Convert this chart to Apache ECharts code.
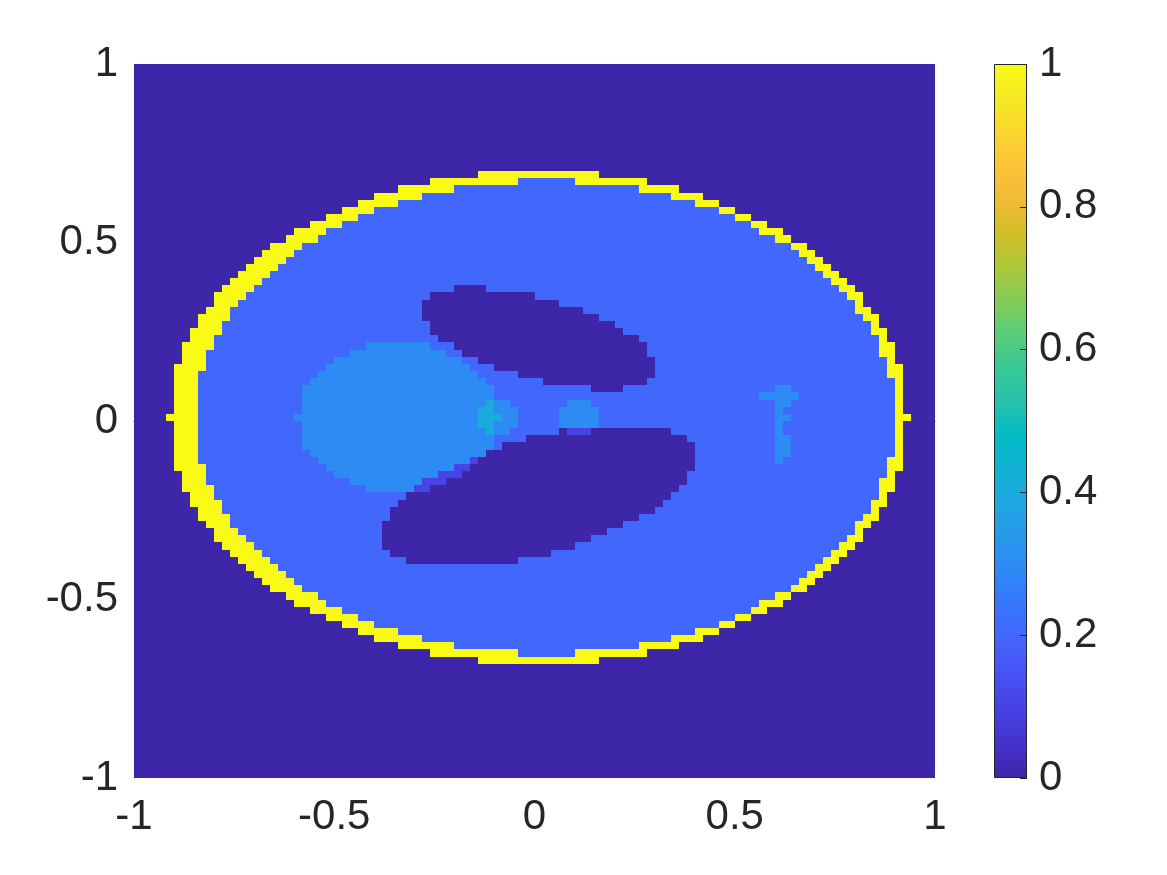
<!DOCTYPE html>
<html>
<head>
<meta charset="utf-8">
<script src="https://cdn.jsdelivr.net/npm/echarts@6/dist/echarts.min.js"></script>
<style>
  html, body { margin: 0; padding: 0; background: #ffffff; }
  #chart { width: 1167px; height: 875px; }
</style>
</head>
<body>
<div id="chart"></div>
<script>
// 图像网格：100 x 100，坐标从 -1 到 1
var gridSize = 100;
var axisMin = -1;
var axisMax = 1;
var cellSize = 0.02;

// 椭圆参数（从图上读出，图像坐标）
var ellipseCx = [0, 0.0184, 0, 0, -0.35, -0.1, 0.1, 0.605, 0.606, 0.605];
var ellipseCy = [0, 0, 0.22, -0.22, 0, 0, 0, -0.08, 0, 0.06];
var ellipseRx = [0.92, 0.874, 0.31, 0.41, 0.25, 0.046, 0.046, 0.023, 0.023, 0.046];
var ellipseRy = [0.69, 0.6624, 0.11, 0.16, 0.21, 0.046, 0.046, 0.046, 0.023, 0.023];
var ellipseAngle = [0, 0, -18, 18, 0, 0, 0, 0, 0, 0];
var ellipseIntensity = [1, -0.8, -0.2, -0.2, 0.1, 0.1, 0.1, 0.1, 0.1, 0.1];

// 坐标轴刻度
var axisTicks = [-1, -0.5, 0, 0.5, 1];
var colorbarTicks = [0, 0.2, 0.4, 0.6, 0.8, 1];
var colorbarRange = [0, 1];

// parula 色图
var parula = ['#3e26a8', '#4432cb', '#4741e5', '#4852f4', '#4563fd', '#3875fe',
  '#2e87f7', '#2797eb', '#20a5e3', '#12b1d6', '#02bac3', '#24c1ae', '#37c897',
  '#57cc7a', '#81cc59', '#abc739', '#d1bf27', '#f0ba36', '#fec338', '#fad62d',
  '#f5e924', '#f9fb15'];

// 计算每个格子的值（把各椭圆叠加）
function buildCells() {
  var cells = [];
  for (var i = 0; i < gridSize; i++) {
    var x = (i - gridSize / 2) / (gridSize / 2);
    for (var j = 0; j < gridSize; j++) {
      var y = (j - gridSize / 2) / (gridSize / 2);
      var v = 0;
      for (var k = 0; k < ellipseCx.length; k++) {
        var t = ellipseAngle[k] * Math.PI / 180;
        var dx = x - ellipseCx[k];
        var dy = y - ellipseCy[k];
        var u = dx * Math.cos(t) + dy * Math.sin(t);
        var w = -dx * Math.sin(t) + dy * Math.cos(t);
        var s = (u / ellipseRx[k]) * (u / ellipseRx[k]) + (w / ellipseRy[k]) * (w / ellipseRy[k]);
        if (s <= 1 + 1e-9) v += ellipseIntensity[k];
      }
      cells.push([x, y, Math.round(v * 1000) / 1000]);
    }
  }
  return cells;
}

var textColor = '#262626';
var fontFamily = 'Liberation Sans, Arial, sans-serif';
var fontSize = 42;

var chart = echarts.init(document.getElementById('chart'), null, { renderer: 'canvas' });

var gradientStops = parula.map(function (c, idx) {
  return { offset: idx / (parula.length - 1), color: c };
});

var option = {
  animation: false,
  backgroundColor: '#ffffff',
  grid: [
    { left: 134, top: 64, width: 801, height: 714 },
    { left: 994, top: 64, width: 33, height: 714 }
  ],
  xAxis: [
    {
      type: 'value', gridIndex: 0, min: axisMin, max: axisMax, interval: 0.5,
      axisLine: { show: true, lineStyle: { color: textColor, width: 1 } },
      axisTick: { show: false },
      splitLine: { show: false },
      axisLabel: {
        color: textColor, fontSize: fontSize, fontFamily: fontFamily, margin: 18,
        customValues: axisTicks
      }
    },
    {
      type: 'category', gridIndex: 1, data: ['c'], show: false
    }
  ],
  yAxis: [
    {
      type: 'value', gridIndex: 0, min: axisMin, max: axisMax, interval: 0.5,
      axisLine: { show: false },
      axisTick: { show: false },
      splitLine: { show: false },
      axisLabel: {
        color: textColor, fontSize: fontSize, fontFamily: fontFamily, margin: 16,
        customValues: axisTicks
      }
    },
    {
      type: 'value', gridIndex: 1, position: 'right', z: 5,
      min: colorbarRange[0], max: colorbarRange[1], interval: 0.2,
      axisLine: { show: false },
      axisTick: { show: true, inside: true, length: 7, lineStyle: { color: textColor, width: 1 } },
      splitLine: { show: false },
      axisLabel: {
        color: textColor, fontSize: fontSize, fontFamily: fontFamily, margin: 12,
        customValues: colorbarTicks
      }
    }
  ],
  visualMap: {
    show: false,
    type: 'continuous',
    seriesIndex: 0,
    dimension: 2,
    min: colorbarRange[0],
    max: colorbarRange[1],
    inRange: { color: parula }
  },
  series: [
    {
      type: 'custom',
      xAxisIndex: 0,
      yAxisIndex: 0,
      clip: true,
      encode: { x: 0, y: 1 },
      data: buildCells(),
      renderItem: function (params, api) {
        var p0 = api.coord([api.value(0), api.value(1)]);
        var p1 = api.coord([api.value(0) + cellSize, api.value(1) + cellSize]);
        // 取整到像素，避免格子之间出现细缝
        var x0 = Math.round(p0[0]), x1 = Math.round(p1[0]);
        var y0 = Math.round(p0[1]), y1 = Math.round(p1[1]);
        return {
          type: 'rect',
          shape: { x: x0, y: y1, width: x1 - x0, height: y0 - y1 },
          style: { fill: api.visual('color') }
        };
      }
    },
    {
      type: 'bar',
      xAxisIndex: 1,
      yAxisIndex: 1,
      silent: true,
      barWidth: '100%',
      data: [colorbarRange[1]],
      itemStyle: {
        color: { type: 'linear', x: 0, y: 1, x2: 0, y2: 0, colorStops: gradientStops },
        borderColor: textColor,
        borderWidth: 1
      }
    }
  ]
};

chart.setOption(option);
</script>
</body>
</html>
